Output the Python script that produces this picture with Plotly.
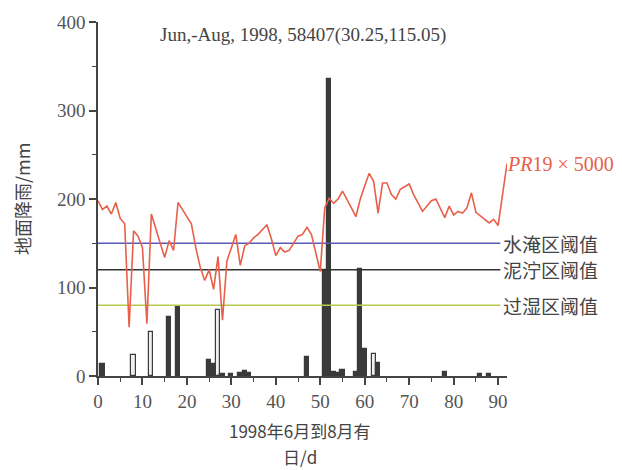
import plotly.graph_objects as go

# ---------------- data ----------------
days = list(range(0, 93))
pr19_x5000 = [198, 188, 192, 183, 196, 178, 172, 55, 164, 158,
              145, 59, 183, 165, 150, 134, 153, 142, 196, 188,
              180, 172, 145, 123, 108, 120, 98, 135, 63, 130,
              145, 160, 125, 147, 150, 156, 160, 165, 171, 155,
              136, 145, 140, 142, 150, 158, 160, 168, 160, 140,
              118, 190, 201, 195, 200, 209, 200, 190, 180, 200,
              215, 229, 220, 184, 218, 218, 205, 200, 211, 214,
              217, 205, 195, 186, 192, 198, 200, 190, 179, 192,
              182, 186, 184, 190, 207, 185, 181, 176, 173, 177,
              170, 205, 240]

rain_days = [1, 8, 12, 16, 18, 25, 26, 27, 28, 30, 32, 33, 34, 47, 51, 52,
             53, 54, 55, 58, 59, 60, 62, 63, 78, 86, 88]
rain_mm = [14, 24, 50, 67, 78, 18, 14, 75, 2, 2, 3, 6, 3, 22, 120, 336,
           4, 3, 7, 5, 121, 30, 25, 15, 4, 2, 2]
hollow_days = [8, 12, 27, 62]

threshold_names = ["水淹区阈值", "泥泞区阈值", "过湿区阈值"]
threshold_values = [150, 120, 80]
threshold_span = [0, 90.5]

title_text = "Jun,-Aug, 1998, 58407(30.25,115.05)"
y_title = "地面降雨/mm"
x_title_lines = ["1998年6月到8月有", "日/d"]
x_ticks = [0, 10, 20, 30, 40, 50, 60, 70, 80, 90]
y_ticks = [0, 100, 200, 300, 400]

# ---------------- style ----------------
axis_color = "#444444"
tick_font = dict(family="Liberation Serif", size=19, color="#555555")
cjk_font = "Noto Sans CJK SC"
line_red = "#e8604a"
threshold_colors = ["#5a5ab8", "#333333", "#b8c850"]

fig = go.Figure()

bar_fill = ["#f0f0f0" if d in hollow_days else "#3a3a3a" for d in rain_days]
fig.add_trace(go.Bar(
    x=rain_days, y=rain_mm, width=0.95,
    marker=dict(color=bar_fill, line=dict(color="#3a3a3a", width=1.2)),
    showlegend=False))

for name, val, col in zip(threshold_names, threshold_values, threshold_colors):
    fig.add_trace(go.Scatter(
        x=threshold_span, y=[val, val], mode="lines",
        line=dict(color=col, width=1.6), showlegend=False))
    fig.add_annotation(x=1.0, xref="paper", y=val, yref="y", text=name,
                       showarrow=False, xanchor="left", xshift=-6, yanchor="middle",
                       font=dict(family=cjk_font, size=19, color="#444444"))

fig.add_trace(go.Scatter(
    x=days, y=pr19_x5000, mode="lines",
    line=dict(color=line_red, width=1.6), showlegend=False))

fig.add_annotation(x=1.0, xref="paper", y=240, yref="y",
                   text="<i>PR</i>19 × 5000", showarrow=False,
                   xanchor="left", yanchor="middle", xshift=-2,
                   font=dict(family="Liberation Serif", size=20, color=line_red))

fig.add_annotation(x=0.5, xref="paper", y=1.0, yref="paper", yshift=-13,
                   text=title_text, showarrow=False, xanchor="center", yanchor="middle",
                   font=dict(family="Liberation Serif", size=19, color="#444444"))

fig.add_annotation(x=0, xref="paper", xshift=-76, y=0.5, yref="paper",
                   text=y_title, textangle=-90, showarrow=False,
                   xanchor="center", yanchor="middle",
                   font=dict(family=cjk_font, size=18, color="#444444"))

fig.add_annotation(x=0.5, xref="paper", xshift=-3, y=0, yref="paper", yshift=-54,
                   text=x_title_lines[0], showarrow=False, xanchor="center", yanchor="middle",
                   font=dict(family=cjk_font, size=17, color="#444444"))
fig.add_annotation(x=0.5, xref="paper", xshift=-3, y=0, yref="paper", yshift=-80,
                   text=x_title_lines[1], showarrow=False, xanchor="center", yanchor="middle",
                   font=dict(family=cjk_font, size=17, color="#444444"))

fig.update_layout(
    width=622, height=470,
    margin=dict(l=98, r=115, t=20, b=94),
    plot_bgcolor="white", paper_bgcolor="white",
    bargap=0,
    xaxis=dict(range=[0, 92], tickvals=x_ticks, showgrid=False, zeroline=False,
               showline=True, linecolor=axis_color, linewidth=1.5,
               ticks="outside", ticklen=7, tickwidth=1.5, tickcolor=axis_color,
               tickfont=tick_font,
               minor=dict(dtick=5, tick0=0, ticks="outside", ticklen=4,
                          tickcolor=axis_color, tickwidth=1.2)),
    yaxis=dict(range=[0, 400], tickvals=y_ticks, showgrid=False, zeroline=False,
               showline=True, linecolor=axis_color, linewidth=1.5,
               ticks="outside", ticklen=7, tickwidth=1.5, tickcolor=axis_color,
               tickfont=tick_font,
               minor=dict(dtick=50, tick0=0, ticks="outside", ticklen=4,
                          tickcolor=axis_color, tickwidth=1.2)),
)

fig.write_html("out.html")
